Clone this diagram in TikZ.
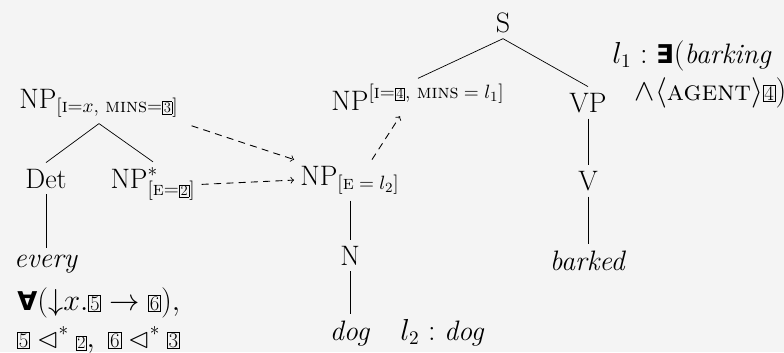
\documentclass[tikz,border=0pt]{standalone}
\usepackage{amsmath,amssymb}
\usepackage{fontspec}
\usepackage{graphicx}
\newfontfamily\quantfont{DejaVu Sans}[Scale=0.92]
\definecolor{paper}{HTML}{F4F4F4}
\newcommand{\tagbox}[1]{{\setlength{\fboxsep}{0.5pt}\setlength{\fboxrule}{0.4pt}\fbox{\scalebox{0.74}{#1}}}}
\newcommand{\qall}{\text{\quantfont\bfseries ∀}}
\newcommand{\qex}{\text{\quantfont\bfseries ∃}}
\begin{document}
\begin{tikzpicture}[x=0.2mm, y=-0.2mm, font=\fontsize{16}{21}\selectfont, >=to,
    cat/.style={anchor=base},
    sem/.style={inner sep=0pt, align=left},
    link/.style={->, dash pattern=on 4pt off 3pt, line width=0.5pt}]
    % 1. Nền
    \fill[paper] (0,0) rectangle (784,352);
    \useasboundingbox (0,0) rectangle (784,352);

    % 2. Cây "dog barked"
    \node[cat] (S) at (503,32) {S};
    \node[cat] (NPi) at (418,110) {NP$^{[\text{\textsc{i}=\tagbox{4}, \textsc{mins}}\;=\;l_1]}$};
    \node[cat] (VP) at (588,112) {VP};
    \node[cat] (V) at (588,190) {V};
    \node[cat] (barked) at (588,270) {\textit{barked}};
    \node[sem, anchor=north west] (semS) at (612,40)
        {$l_1 : \qex(\textit{barking}$\\\hspace{0.8em}$\wedge\langle\text{\textsc{agent}}\rangle\tagbox{4})$};

    \node[cat] (NPe) at (350,185) {NP$_{[\text{\textsc{e}}\;=\;l_2]}$};
    \node[cat] (N) at (350,265) {N};
    \node[cat] (dog) at (350,340) {\textit{dog}};
    \node[sem, anchor=base west] (semN) at (400,340) {$l_2 : \textit{dog}$};

    % 3. Cây "every"
    \node[cat] (NPl) at (99,108) {NP$_{[\text{\textsc{i}=}x\text{, \textsc{mins}=\tagbox{3}}]}$};
    \node[cat] (Det) at (46,188) {Det};
    \node[cat] (NPs) at (153,188) {NP$^{*}_{[\text{\textsc{e}=\tagbox{2}}]}$};
    \node[cat] (every) at (46,267) {\textit{every}};
    \node[sem, anchor=north west] (semD) at (17,287)
        {$\qall(\mathord{\downarrow}x.\tagbox{5}\rightarrow\tagbox{6}),$\\
         $\tagbox{5}\lhd^{*}\raisebox{-1pt}{\scalebox{0.85}{\tagbox{2}}},\; \tagbox{6}\lhd^{*}\tagbox{3}$};

    % 4. Cạnh của cây
    \draw (S.south) -- (NPi.north);
    \draw (S.south) -- (VP.north);
    \draw (VP) -- (V);
    \draw (V) -- (barked);
    \draw (NPe) -- (N);
    \draw (N) -- (dog);
    \draw (NPl.south) -- (Det.north);
    \draw (NPl.south) -- (NPs.north);
    \draw (Det) -- (every);

    % 5. Mũi tên nét đứt
    \draw[link, shorten <=4pt] (NPl.south east) -- (NPe.north west);
    \draw[link] (NPs.east) -- (NPe.west);
    \draw[link] ([xshift=0.44cm]NPe.north) -- ([xshift=-0.36cm]NPi.south);
\end{tikzpicture}
\end{document}
